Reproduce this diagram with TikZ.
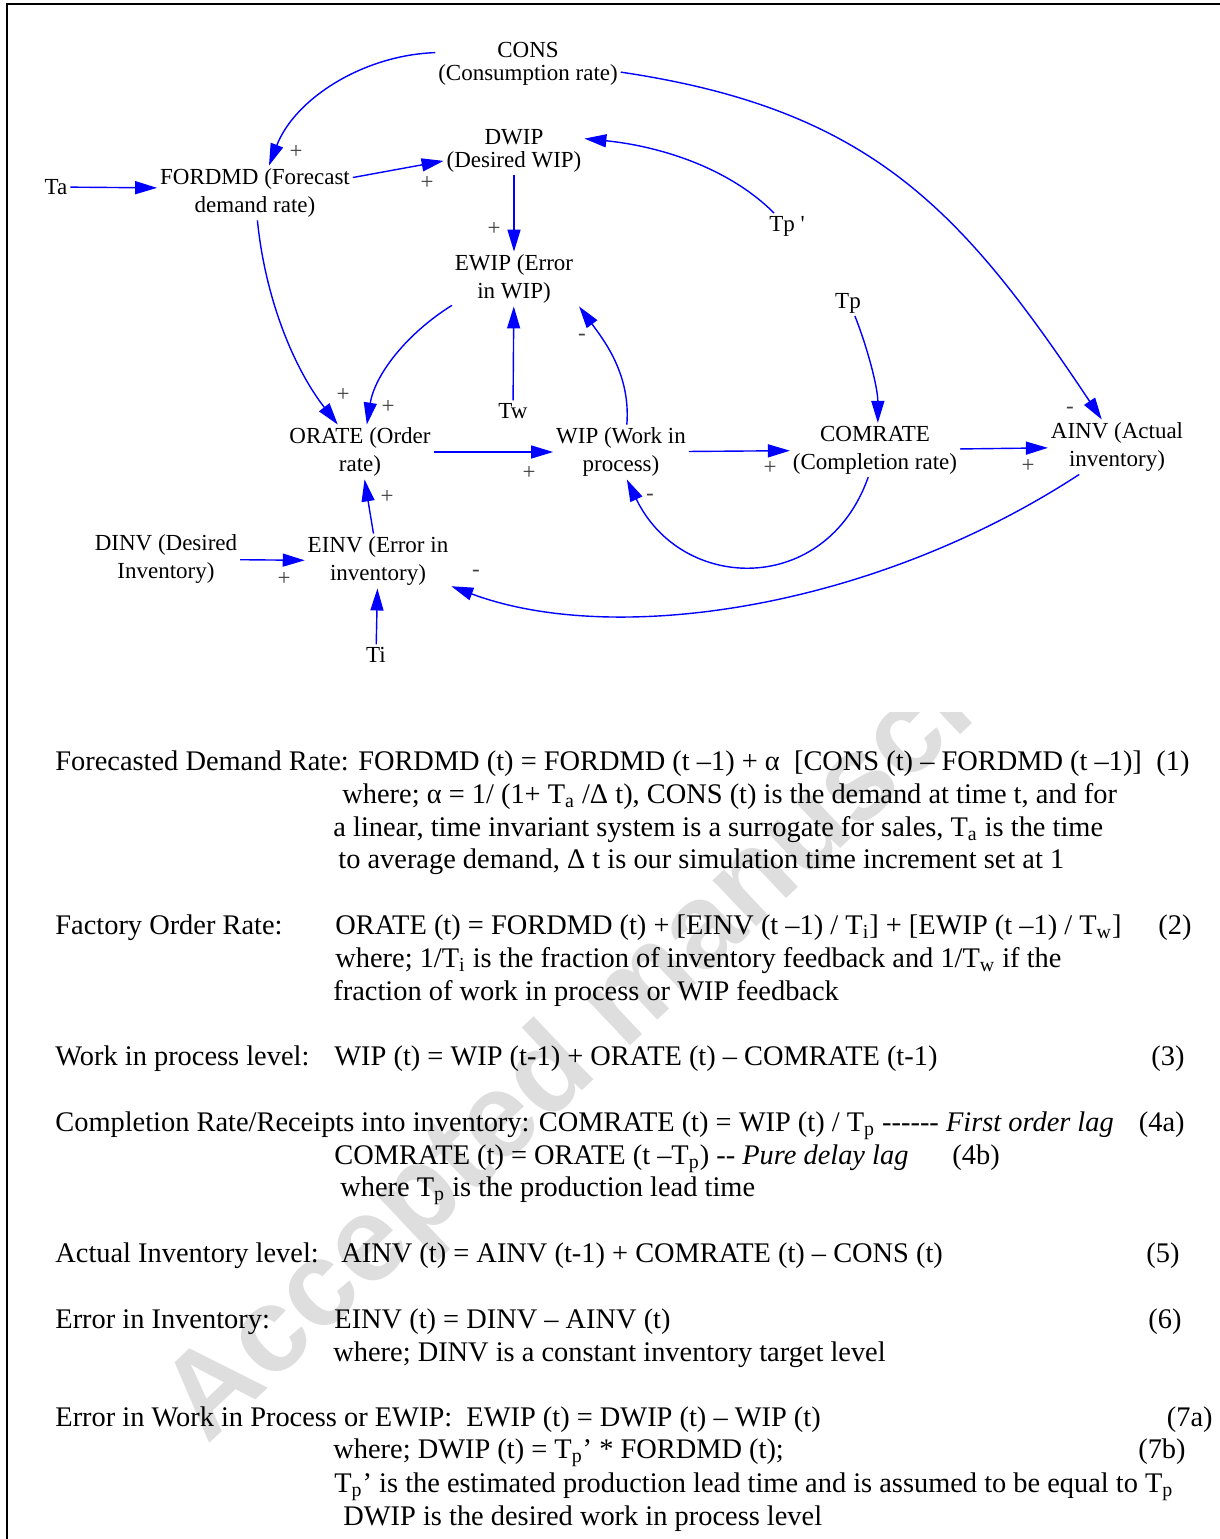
\documentclass[tikz,border=0pt]{standalone}
\usepackage{fontspec}
\setmainfont{Liberation Serif}[Ligatures=TeXOff]
\newfontfamily\wmfont{Liberation Sans}
\usepackage{tikz}
\usetikzlibrary{arrows.meta}

\begin{document}
\begin{tikzpicture}[x=0.5pt,y=-0.5pt,>={Triangle[length=11pt,width=6.5pt]},
    var/.style={align=center,inner sep=0pt,outer sep=1.5pt,font=\fontsize{11.5}{14}\selectfont},
    tight/.style={font=\fontsize{11.5}{11.5}\selectfont},
    link/.style={->,draw=blue,line width=0.7pt},
    sign/.style={inner sep=0pt,text=black!75,font=\fontsize{11.5}{14}\selectfont},
    eqn/.style={anchor=base west,inner sep=0pt,font=\fontsize{14.2}{17}\selectfont},
    eqno/.style={anchor=base east,inner sep=0pt,font=\fontsize{14.2}{17}\selectfont}]

  \useasboundingbox (0,0) rectangle (1220,1539);
  \draw[line width=1.25pt] (1220,4) -- (7,4) -- (7,1539);

  \begin{scope}
    \clip (0,712) rectangle (1220,1539);
    \node[text=black!13,font=\wmfont\bfseries\fontsize{60}{60}\selectfont,rotate=43.3]
      (wm) at (630,1004) {Accepted manuscript};
  \end{scope}

  \node[var,tight] (cons) at (528,64) {CONS\\(Consumption rate)};
  \node[var] (fordmd) at (255,193) {FORDMD (Forecast\\demand rate)};
  \node[var,tight] (dwip) at (514,151) {DWIP\\(Desired WIP)};
  \node[var] (ewip) at (514,279) {EWIP (Error\\in WIP)};
  \node[var] (orate) at (360,452) {ORATE (Order\\rate)};
  \node[var] (wip) at (621,452) {WIP (Work in\\process)};
  \node[var] (comrate) at (875,450) {COMRATE\\(Completion rate)};
  \node[var] (ainv) at (1117,447) {AINV (Actual\\inventory)};
  \node[var] (dinv) at (166,559) {DINV (Desired\\Inventory)};
  \node[var] (einv) at (378,561) {EINV (Error in\\inventory)};
  \node[var] (ta) at (56,187) {Ta};
  \node[var] (tpp) at (787,226) {Tp '};
  \node[var] (tp) at (848,303) {Tp};
  \node[var] (tw) at (513,411) {Tw};
  \node[var] (ti) at (376,655) {Ti};

  \draw[link] (ta) -- (fordmd.177);
  \draw[link] (cons.173) .. controls +(-72,2.5) and +(26,-67) .. (fordmd.63);
  \draw[link] (fordmd.9) -- (dwip.188);
  \draw[link] (tpp.135) .. controls +(-48,-48) and +(70,7) .. (dwip.10);
  \draw[link] (dwip) -- (ewip);
  \draw[link] (ewip.203) .. controls +(-45,28) and +(8,-50) .. (orate.76);
  \draw[link] (fordmd.275) .. controls +(8,80) and +(-43,-55) .. (orate.129);
  \draw[link] (tw) -- (ewip);
  \draw[link] (wip.78) .. controls +(4,-50) and +(25,34) .. ([xshift=1.5pt]ewip.south east);
  \draw[link] (orate) -- (wip);
  \draw[link] (wip) -- (comrate);
  \draw[link] (tp.-62) .. controls +(13,33) and +(0,-35) .. (comrate.84);
  \draw[link] (comrate) -- (ainv);
  \draw[link] (cons.-5) .. controls +(250,37) and +(-140,-210) .. (ainv.119);
  \draw[link] (comrate.-104) .. controls +(-42,119) and +(55,114) .. (wip.-78);
  \draw[link] (ainv.-144) .. controls +(-210,137) and +(160,60) .. (einv.-19);
  \draw[link] (dinv) -- (einv);
  \draw[link] (einv) -- (orate);
  \draw[link] (ti) -- (einv);

  \node[sign] (s1) at (296,152) {+};
  \node[sign] (s2) at (427,183) {+};
  \node[sign] (s3) at (494,229) {+};
  \node[sign] (s4) at (343,395) {+};
  \node[sign] (s5) at (388,407) {+};
  \node[sign] (s6) at (582,337) {-};
  \node[sign] (s7) at (529,473) {+};
  \node[sign] (s8) at (770,468) {+};
  \node[sign] (s9) at (1028,466) {+};
  \node[sign] (s10) at (1070,410) {-};
  \node[sign] (s11) at (650,497) {-};
  \node[sign] (s12) at (387,497) {+};
  \node[sign] (s13) at (284,579) {+};
  \node[sign] (s14) at (476,573) {-};

  \node[eqn] (l1) at (55,770) {Forecasted Demand Rate: FORDMD (t) = FORDMD (t –1) + α\ \ [CONS (t) – FORDMD (t –1)]};
  \node[eqno] (n1) at (1190,770) {(1)};
  \node[eqn] (l2) at (342,803) {where; α = 1/ (1+ T\textsubscript{a} /Δ t), CONS (t) is the demand at time t, and for};
  \node[eqn] (l3) at (333,836) {a linear, time invariant system is a surrogate for sales, T\textsubscript{a} is the time};
  \node[eqn] (l4) at (338,868) {to average demand, Δ t is our simulation time increment set at 1};

  \node[eqn] (h2) at (55,934) {Factory Order Rate:};
  \node[eqn] (l5) at (335,934) {ORATE (t) = FORDMD (t) + [EINV (t –1) / T\textsubscript{i}] + [EWIP (t –1) / T\textsubscript{w}]};
  \node[eqno] (n2) at (1192,934) {(2)};
  \node[eqn] (l6) at (335,967) {where; 1/T\textsubscript{i} is the fraction of inventory feedback and 1/T\textsubscript{w} if the};
  \node[eqn] (l7) at (333,1000) {fraction of work in process or WIP feedback};

  \node[eqn] (h3) at (55,1065) {Work in process level:};
  \node[eqn] (l8) at (334,1065) {WIP (t) = WIP (t-1) + ORATE (t) – COMRATE (t-1)};
  \node[eqno] (n3) at (1185,1065) {(3)};

  \node[eqn] (l9) at (55,1131) {Completion Rate/Receipts into inventory: COMRATE (t) = WIP (t) / T\textsubscript{p} ------ \textit{First order lag}};
  \node[eqno] (n4) at (1185,1131) {(4a)};
  \node[eqn] (l10) at (334,1164) {COMRATE (t) = ORATE (t –T\textsubscript{p}) -- \textit{Pure delay lag}};
  \node[eqn] (n5) at (952,1164) {(4b)};
  \node[eqn] (l11) at (340,1196) {where T\textsubscript{p} is the production lead time};

  \node[eqn] (h5) at (55,1262) {Actual Inventory level:};
  \node[eqn] (l12) at (341,1262) {AINV (t) = AINV (t-1) + COMRATE (t) – CONS (t)};
  \node[eqno] (n6) at (1180,1262) {(5)};

  \node[eqn] (h6) at (55,1328) {Error in Inventory:};
  \node[eqn] (l13) at (334,1328) {EINV (t) = DINV – AINV (t)};
  \node[eqno] (n7) at (1182,1328) {(6)};
  \node[eqn] (l14) at (333,1361) {where; DINV is a constant inventory target level};

  \node[eqn] (l15) at (55,1426) {Error in Work in Process or EWIP:\ \ EWIP (t) = DWIP (t) – WIP (t)};
  \node[eqno] (n8) at (1213,1426) {(7a)};
  \node[eqn] (l16) at (333,1458) {where; DWIP (t) = T\textsubscript{p}’ * FORDMD (t);};
  \node[eqno] (n9) at (1186,1458) {(7b)};
  \node[eqn] (l17) at (334,1492) {T\textsubscript{p}’ is the estimated production lead time and is assumed to be equal to T\textsubscript{p}};
  \node[eqn] (l18) at (343,1525) {DWIP is the desired work in process level};

\end{tikzpicture}
\end{document}
